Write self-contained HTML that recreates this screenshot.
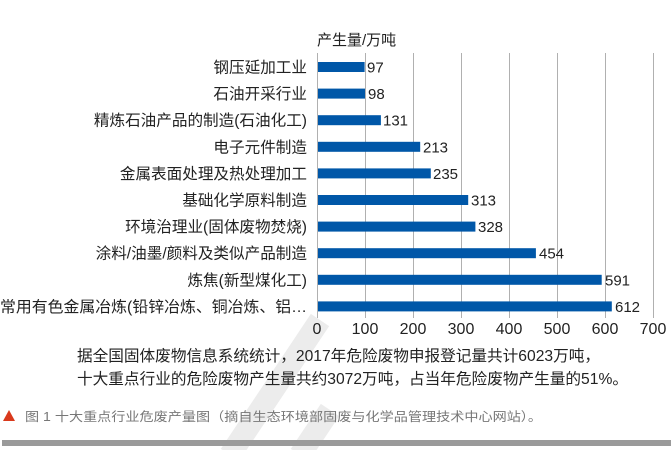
<!DOCTYPE html>
<html><head><meta charset="utf-8"><style>
html,body{margin:0;padding:0;background:#fff;}
body{width:671px;height:450px;overflow:hidden;}
svg text{font-family:"Liberation Sans","Noto Sans CJK SC",sans-serif;}
</style></head><body>
<svg width="671" height="450" viewBox="0 0 671 450" xmlns="http://www.w3.org/2000/svg">
<g stroke="#ececec" stroke-width="22" fill="none">
<path d="M230 455 L320 320"/>
<path d="M300 455 L330 410"/>
</g>
<g stroke="#b0b0b0" stroke-width="1">
<line x1="317.5" y1="53" x2="317.5" y2="318"/>
<line x1="365.5" y1="53" x2="365.5" y2="318"/>
<line x1="413.5" y1="53" x2="413.5" y2="318"/>
<line x1="461.5" y1="53" x2="461.5" y2="318"/>
<line x1="509.5" y1="53" x2="509.5" y2="318"/>
<line x1="557.5" y1="53" x2="557.5" y2="318"/>
<line x1="605.5" y1="53" x2="605.5" y2="318"/>
<line x1="653.5" y1="53" x2="653.5" y2="318"/>
</g>
<text x="317" y="45" font-size="15" fill="#222">产生量/万吨</text>
<g fill="#0057a8">
<rect x="318" y="62" width="46.6" height="10"/>
<rect x="318" y="88.6" width="47" height="10"/>
<rect x="318" y="115.2" width="62.9" height="10"/>
<rect x="318" y="141.8" width="102.2" height="10"/>
<rect x="318" y="168.4" width="112.8" height="10"/>
<rect x="318" y="195" width="150.2" height="10"/>
<rect x="318" y="221.6" width="157.4" height="10"/>
<rect x="318" y="248.2" width="217.9" height="10"/>
<rect x="318" y="274.8" width="283.7" height="10"/>
<rect x="318" y="301.4" width="293.8" height="10"/>
</g>
<g font-size="15" fill="#222">
<text x="367" y="72.5">97</text>
<text x="368" y="99">98</text>
<text x="383" y="125.7">131</text>
<text x="423" y="152.3">213</text>
<text x="433" y="178.9">235</text>
<text x="471" y="205.5">313</text>
<text x="478" y="232.1">328</text>
<text x="539" y="258.7">454</text>
<text x="605" y="285.3">591</text>
<text x="615" y="311.9">612</text>
</g>
<g font-size="15.6" fill="#222" text-anchor="end">
<text x="307" y="72.5">钢压延加工业</text>
<text x="307" y="99">石油开采行业</text>
<text x="307" y="125.7">精炼石油产品的制造(石油化工)</text>
<text x="307" y="152.3">电子元件制造</text>
<text x="307" y="178.9">金属表面处理及热处理加工</text>
<text x="307" y="205.5">基础化学原料制造</text>
<text x="307" y="232.1">环境治理业(固体废物焚烧)</text>
<text x="307" y="258.7">涂料/油墨/颜料及类似产品制造</text>
<text x="307" y="285.3">炼焦(新型煤化工)</text>
<text x="307" y="311.9" textLength="307" lengthAdjust="spacingAndGlyphs">常用有色金属冶炼(铅锌冶炼、铜冶炼、铝…</text>
</g>
<g font-size="16" fill="#222" text-anchor="middle">
<text x="317" y="334">0</text>
<text x="365" y="334">100</text>
<text x="413" y="334">200</text>
<text x="461" y="334">300</text>
<text x="509" y="334">400</text>
<text x="557" y="334">500</text>
<text x="605" y="334">600</text>
<text x="653" y="334">700</text>
</g>
<text x="77" y="361" font-size="15.5" fill="#222" textLength="523" lengthAdjust="spacingAndGlyphs">据全国固体废物信息系统统计，2017年危险废物申报登记量共计6023万吨，</text>
<text x="77" y="384" font-size="15.5" fill="#222" textLength="551" lengthAdjust="spacingAndGlyphs">十大重点行业的危险废物产生量共约3072万吨，占当年危险废物产生量的51%。</text>
<polygon points="3,421 9,410 15,421" fill="#d9391c"/>
<text x="25" y="421" font-size="12.5" fill="#777" textLength="517" lengthAdjust="spacingAndGlyphs">图 1 十大重点行业危废产量图（摘自生态环境部固废与化学品管理技术中心网站）。</text>
<rect x="2" y="440" width="669" height="6" fill="#9a9a9a"/>
</svg>
</body></html>
